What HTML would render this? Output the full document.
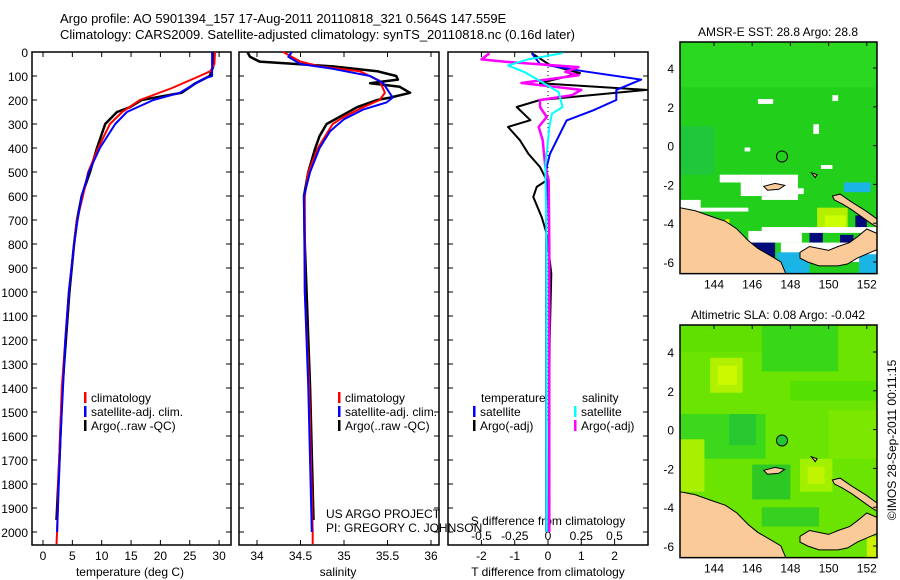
<!DOCTYPE html>
<html><head><meta charset="utf-8"><style>
html,body{margin:0;padding:0;background:#fff;}
svg{display:block;font-family:"Liberation Sans",sans-serif;}
</style></head><body>
<svg id="fig" width="900" height="580" viewBox="0 0 900 580" xmlns="http://www.w3.org/2000/svg">
<text x="60" y="23" font-size="13">Argo profile: AO 5901394_157 17-Aug-2011 20110818_321 0.564S 147.559E</text>
<text x="60" y="39" font-size="13">Climatology: CARS2009. Satellite-adjusted climatology: synTS_20110818.nc (0.16d later)</text>
<g id="panels"></g>
<g id="maps"></g>
<text transform="translate(896,440) rotate(-90)" text-anchor="middle" font-size="12">©IMOS 28-Sep-2011 00:11:15</text>
</svg>
<script>
// ---------- data ----------
const tClimDepth=[0,50,80,100,150,200,250,300,400,500,600,700,800,1000,1200,1400,1600,1800,2000,2050];
const tClimVal=[29.3,29.2,28.5,26.7,22,16.5,13.5,11.4,9.4,7.7,6.8,5.8,5.3,4.4,3.8,3.2,2.9,2.6,2.4,2.3];
const tSatDepth=[0,100,110,170,200,250,300,400,500,600,700,800,1000,1200,1400,1600,1800,2000];
const tSatVal=[28.8,28.8,27.5,23.3,18.8,14.3,12.3,9.7,7.8,6.6,5.9,5.3,4.4,3.8,3.4,3.0,2.7,2.4];
const tArgoDepth=[0,60,100,130,170,200,230,250,300,400,500,600,700,800,1000,1400,1700,1950];
const tArgoVal=[28.9,29.0,28.4,26,23.6,16.8,14.8,12.6,10.6,9.2,8.0,6.6,5.8,5.3,4.5,3.3,2.8,2.3];

const sArgoDepth=[0,20,40,60,80,100,115,130,145,170,190,200,230,270,300,350,400,500,600,800,1000,1400,1950];
const sArgoVal=[33.89,33.92,34.03,34.87,35.38,35.6,35.62,35.3,35.64,35.76,35.53,35.38,35.15,34.95,34.8,34.72,34.67,34.59,34.54,34.55,34.57,34.61,34.65];
const sClimDepth=[0,40,60,80,120,170,200,230,270,300,400,500,600,1000,1400,2000,2050];
const sClimVal=[34.3,34.5,34.72,35.18,35.41,35.47,35.41,35.22,35.0,34.87,34.7,34.59,34.55,34.55,34.6,34.64,34.64];
const sSatDepth=[0,20,50,70,100,130,190,210,240,280,330,400,500,600,1000,1400,2000];
const sSatVal=[34.4,34.36,34.5,34.87,35.3,35.45,35.56,35.49,35.22,35.0,34.84,34.72,34.61,34.54,34.55,34.59,34.63];

const dTArgoDepth=[5,54,88,130,158,200,229,284,312,368,424,479,535,562,604,688,757,924,1200,1600,2000];
const dTArgoVal=[-0.49,0.06,0.96,-0.24,2.96,-0.24,-0.94,-0.53,-1.2,-0.84,-0.59,-0.24,-0.04,-0.34,-0.44,-0.19,-0.04,0.1,0.05,0.03,0.02];
const dTSatDepth=[5,50,80,115,158,200,243,285,368,424,479,700,1000,1500,2000];
const dTSatVal=[-0.49,-0.24,1.06,2.8,2.05,2.05,1.36,0.56,0.26,0.06,-0.04,-0.05,-0.05,-0.05,-0.05];
const dSArgoDepth=[5,31,41,63,83,97,129,158,180,200,229,271,312,368,479,535,800,1200,2000];
const dSArgoVal=[-0.44,-0.5,-0.32,0.23,0.13,0.23,-0.2,0.25,0.18,-0.06,-0.06,-0.01,-0.07,-0.04,-0.02,0.005,0.01,0.01,0.01];
const dSSatDepth=[5,31,56,83,124,167,229,257,312,368,479,800,1200,2000];
const dSSatVal=[0.11,-0.15,-0.3,-0.18,-0.05,0.08,0.11,0.03,0.01,0.0,-0.02,-0.01,-0.01,-0.01];

const depthTicks=[0,100,200,300,400,500,600,700,800,900,1000,1100,1200,1300,1400,1500,1600,1700,1800,1900,2000];
const tempTicks=[0,5,10,15,20,25,30];
const salTicks=[34,34.5,35,35.5,36];
const tDiffTicks=[-2,-1,0,1,2];
const sDiffTicks=[-0.5,-0.25,0,0.25,0.5];
const sDiffLabels=["-0.5","-0.25","0","0.25","0.5"];
const lonTicks=[144,146,148,150,152];
const latTicks=[4,2,0,-2,-4,-6];

// ---------- helpers ----------
const NS="http://www.w3.org/2000/svg";
function mk(tag,attrs,parent){const e=document.createElementNS(NS,tag);for(const k in attrs)e.setAttribute(k,attrs[k]);parent.appendChild(e);return e;}
const yD=d=>52+d*0.24;
const PT=545;
const panels=document.getElementById('panels');

function line(g,depths,vals,sx,color,w,name){
  let d='';depths.forEach((dp,i)=>{d+=(i?'L':'M')+sx(vals[i]).toFixed(1)+','+yD(dp).toFixed(1);});
  const p=mk('path',{d:d,fill:'none',stroke:color,'stroke-width':w,'stroke-linejoin':'round'},g);
  
  
}
function frame(g,x0,x1,name){
  const r=mk('rect',{x:x0,y:52,width:x1-x0,height:PT-52,fill:'none',stroke:'#000','stroke-width':1.5},g);
  
  
  depthTicks.forEach(d=>{mk('line',{x1:x0,x2:x0+5,y1:yD(d),y2:yD(d),stroke:'#000'},g);mk('line',{x1:x1,x2:x1-5,y1:yD(d),y2:yD(d),stroke:'#000'},g);});
}
function xticks(g,ticks,labels,sx,ly,tl){
  ticks.forEach((t,i)=>{const x=sx(t);
    mk('line',{x1:x,x2:x,y1:52,y2:57,stroke:'#000'},g);
    if(tl!==false) mk('line',{x1:x,x2:x,y1:PT,y2:PT-5,stroke:'#000'},g);
    const tx=mk('text',{x:x,y:ly,'text-anchor':'middle','font-size':12},g);tx.textContent=labels[i];
    
    
  });
}
function txt(g,x,y,s,name,anchor,size){const t=mk('text',{x:x,y:y,'font-size':size||12,'text-anchor':anchor||'start'},g);t.textContent=s;
  
  return t;}
function legend(g,x,y,color,label){mk('rect',{x:x,y:y-10,width:2.5,height:11,fill:color},g);txt(g,x+7,y,label,'legend-entry');}

// ---------- panel 1: temperature ----------
const g1=mk('g',{},panels);
const sxT=v=>43+v*5.87;
frame(g1,32,231,'temperature-axes');
depthTicks.forEach(d=>{const t=txt(g1,28,yD(d)+5,String(d),'depth-tick-label','end',12);});
xticks(g1,tempTicks,tempTicks.map(String),sxT,560);
txt(g1,130,576,'temperature (deg C)','temperature-axis-title','middle');
line(g1,tArgoDepth,tArgoVal,sxT,'#000',2.5,'temp-argo-line');
line(g1,tClimDepth,tClimVal,sxT,'#f00',2,'temp-climatology-line');
line(g1,tSatDepth,tSatVal,sxT,'#00f',2,'temp-satellite-line');
legend(g1,84,402,'#f00','climatology');legend(g1,84,416,'#00f','satellite-adj. clim.');legend(g1,84,430,'#000','Argo(..raw -QC)');

// ---------- panel 2: salinity ----------
const g2=mk('g',{},panels);
const sxS=v=>257+(v-34)*87;
frame(g2,239,439,'salinity-axes');
xticks(g2,salTicks,["34","34.5","35","35.5","36"],sxS,560);
txt(g2,338,576,'salinity','salinity-axis-title','middle');
line(g2,sArgoDepth,sArgoVal,sxS,'#000',2.5,'sal-argo-line');
line(g2,sClimDepth,sClimVal,sxS,'#f00',2,'sal-climatology-line');
line(g2,sSatDepth,sSatVal,sxS,'#00f',2,'sal-satellite-line');
legend(g2,338,402,'#f00','climatology');legend(g2,338,416,'#00f','satellite-adj. clim.');legend(g2,338,430,'#000','Argo(..raw -QC)');
txt(g2,326,518,'US ARGO PROJECT','project-label');
txt(g2,326,532,'PI: GREGORY C. JOHNSON','pi-label');

// ---------- panel 3: differences ----------
const g3=mk('g',{},panels);
const sxDT=v=>548+v*33.3, sxDS=v=>548+v*133;
frame(g3,448,648,'difference-axes');
xticks(g3,tDiffTicks,tDiffTicks.map(String),sxDT,560);
sDiffTicks.forEach((t,i)=>txt(g3,sxDS(t),540,sDiffLabels[i],'s-diff-tick-label','middle'));
txt(g3,548,525,'S difference from climatology','s-diff-axis-title','middle');
txt(g3,548,576,'T difference from climatology','t-diff-axis-title','middle');
mk('line',{x1:548,x2:548,y1:55,y2:420,stroke:'#000','stroke-dasharray':'1,3'},g3);
line(g3,dTArgoDepth,dTArgoVal,sxDT,'#000',2,'tdiff-argo-line');
line(g3,dTSatDepth,dTSatVal,sxDT,'#00f',2,'tdiff-satellite-line');
line(g3,dSArgoDepth,dSArgoVal,sxDS,'#f0f',2.5,'sdiff-argo-line');
line(g3,dSSatDepth,dSSatVal,sxDS,'#0ff',2,'sdiff-satellite-line');
txt(g3,481,402,'temperature','legend-heading-temperature');txt(g3,582,402,'salinity','legend-heading-salinity');
legend(g3,473,416,'#00f','satellite');legend(g3,473,430,'#000','Argo(-adj)');
legend(g3,574,416,'#0ff','satellite');legend(g3,574,430,'#f0f','Argo(-adj)');

// ---------- maps ----------
const maps=document.getElementById('maps');
const mX=lon=>714+(lon-144)*19.1;
const land=[
 [[142.2,-3.2],[143,-3.35],[144,-3.7],[144.6,-3.9],[145.2,-4.3],[145.8,-4.9],[146.3,-5.3],[147,-5.7],[147.5,-6],[147.8,-6.7],[142.2,-6.7]],
 [[148.5,-5.5],[149,-5.2],[150,-5.4],[150.5,-5.2],[151.1,-5],[151.5,-4.7],[152,-4.3],[152.7,-4.6],[152.7,-5.3],[152.2,-5.5],[151.5,-5.8],[151,-6.1],[150.5,-6.2],[149.5,-6.2],[148.9,-6],[148.5,-5.8]],
 [[150.2,-2.6],[150.6,-2.5],[151.2,-2.9],[152,-3.4],[152.7,-3.9],[152.7,-4.3],[152.2,-4.0],[151.2,-3.3],[150.7,-3.0],[150.3,-2.8]],
 [[146.6,-2.1],[147.2,-1.95],[147.7,-2.05],[147.4,-2.25],[146.8,-2.3]],
 [[149.1,-1.4],[149.4,-1.5],[149.3,-1.65]]
];
function drawMap(top,y0,name,title,bg,patches,mark){
  const g=mk('g',{},maps);
  const mY=lat=>y0-lat*19.4;
  const cp='clip-'+name;const c=mk('clipPath',{id:cp},g);mk('rect',{x:680,y:top,width:197,height:mY(-6.6)-top},c);
  const inner=mk('g',{'clip-path':'url(#'+cp+')'},g);
  mk('rect',{x:680,y:top,width:197,height:mY(-6.6)-top,fill:bg},inner);
  patches.forEach(p=>{mk('rect',{x:mX(p[0]),y:mY(p[1]),width:(p[2]-p[0])*19.1,height:(p[1]-p[3])*19.4,fill:p[4]},inner);});
  land.forEach(poly=>{mk('polygon',{points:poly.map(q=>mX(q[0]).toFixed(1)+','+mY(q[1]).toFixed(1)).join(' '),fill:'#facb98',stroke:'#000','stroke-width':1},inner);});
  mk('circle',{cx:mX(147.56),cy:mY(-0.56),r:5.5,fill:mark,stroke:'#000'},inner);
  const r=mk('rect',{x:680,y:top,width:197,height:mY(-6.6)-top,fill:'none',stroke:'#000','stroke-width':1.5},g);
  
  latTicks.forEach(l=>{mk('line',{x1:877,x2:873,y1:mY(l),y2:mY(l),stroke:'#000'},g);txt(g,674,mY(l)+5,String(l),'lat-tick-label','end',12);});
  const by=mY(-6.6);
  lonTicks.forEach(l=>{mk('line',{x1:mX(l),x2:mX(l),y1:top,y2:top+4,stroke:'#000'},g);txt(g,mX(l),by+15,String(l),'lon-tick-label','middle',12);});
  txt(g,778,top-6,title,name+'-title','middle',12);
}
drawMap(42,145.6,'sst-map','AMSR-E SST: 28.8  Argo: 28.8','#22d01c',[
 [142.2,5.5,152.7,3,'#2ad820'],[142.2,1,144,-1.5,'#1ec83a'],[146.3,2.4,147.1,2.15,'#fff'],[150.2,2.6,150.5,2.3,'#fff'],[149.2,1.1,149.5,0.6,'#fff'],[145.6,-0.1,145.9,-0.3,'#fff'],
 [145.4,-1.5,146.5,-2.6,'#fff'],[144.3,-1.5,145.5,-1.9,'#fff'],[146.5,-1.5,148.4,-2.8,'#fff'],[148.4,-2.2,148.7,-2.5,'#fff'],[142.2,-2.8,143.3,-3.4,'#fff'],[143.3,-3.2,145.8,-3.4,'#fff'],
 [149.6,-1.0,150.2,-1.2,'#fff'],[149.4,-3.2,151,-4.2,'#b4f000'],[149.8,-3.6,150.9,-4.4,'#ccff00'],[149,-4.2,149.7,-5,'#000a78'],[150.6,-4.6,151.3,-5.4,'#000a78'],[151.4,-3.6,152,-4.3,'#000a78'],
 [146.5,-4.2,152.7,-4.5,'#fff'],[145.8,-4.4,148.6,-5.0,'#fff'],[147.5,-5.0,152.7,-6.0,'#fff'],[145.8,-5.0,147.2,-5.9,'#000a78'],[147.3,-5.5,149,-6.7,'#1ab4e6'],[151.6,-5.6,152.7,-6.6,'#1ab4e6'],[150.8,-1.9,152.2,-2.4,'#1ab4e6'],[144.6,-3.8,144.8,-4.0,'#ff0']
],'#22d01c');
drawMap(325,429.6,'sla-map','Altimetric SLA: 0.08  Argo: -0.042','#6ae400',[
 [142.2,5.5,147,4,'#60e000'],[146.5,5.5,150.5,3,'#38d818'],[148,2.5,152.7,1.5,'#54e000'],[143.8,3.7,145.5,1.9,'#b0f000'],[144.2,3.3,145.2,2.3,'#ccf800'],[142.2,0.8,146.7,-1.5,'#3cd81c'],
 [144.8,0.8,146.2,-0.8,'#28c830'],[146,-1.8,148,-3.6,'#2ec824'],[148.5,-1.5,150.2,-3.2,'#a0f000'],[148.9,-1.9,149.8,-2.8,'#c0f400'],[142.2,-0.5,143.5,-3.2,'#a8f000'],[146.5,-4,149.5,-5,'#38d020'],
 [150,1,152.7,-1.5,'#7ce800'],[152,-5.5,152.7,-6.6,'#ccf000']
],'#22c834');
</script>
</body></html>
